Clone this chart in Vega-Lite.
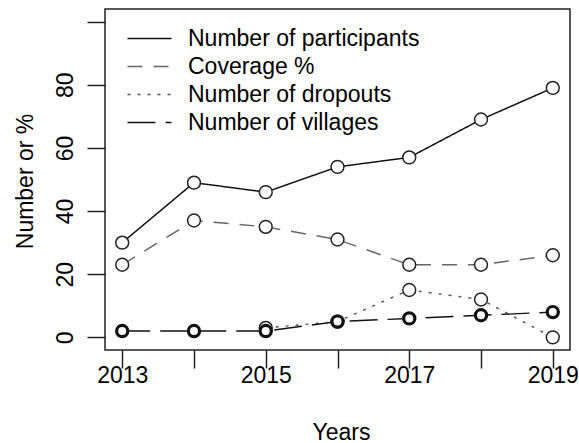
{
  "$schema": "https://vega.github.io/schema/vega-lite/v6.json",
  "width": 465,
  "height": 341,
  "autosize": "none",
  "padding": {"left": 105, "top": 9, "right": 9, "bottom": 93},
  "background": "white",
  "config": {
    "font": "Liberation Sans",
    "view": {"stroke": "#222", "strokeWidth": 1.5},
    "axis": {"grid": false, "domain": false, "tickColor": "#222", "tickWidth": 1.5, "tickSize": 18,
             "labelFontSize": 23, "labelColor": "black", "titleFontSize": 23, "titleColor": "black",
             "titleFontWeight": "normal", "labelFont": "Liberation Sans", "titleFont": "Liberation Sans"},
    "legend": {"orient": "none", "legendX": 33, "legendY": 18, "title": null, "symbolType": "M-2.5,0H2.5",
               "symbolSize": 310, "labelFontSize": 23, "labelColor": "black", "labelFont": "Liberation Sans",
               "labelOffset": 27, "rowPadding": 4, "padding": 0, "labelLimit": 400}
  },
  "data": {"values": [
    {"year": 2013, "series": "Number of participants", "value": 30},
    {"year": 2014, "series": "Number of participants", "value": 49},
    {"year": 2015, "series": "Number of participants", "value": 46},
    {"year": 2016, "series": "Number of participants", "value": 54},
    {"year": 2017, "series": "Number of participants", "value": 57},
    {"year": 2018, "series": "Number of participants", "value": 69},
    {"year": 2019, "series": "Number of participants", "value": 79},
    {"year": 2013, "series": "Coverage %", "value": 23},
    {"year": 2014, "series": "Coverage %", "value": 37},
    {"year": 2015, "series": "Coverage %", "value": 35},
    {"year": 2016, "series": "Coverage %", "value": 31},
    {"year": 2017, "series": "Coverage %", "value": 23},
    {"year": 2018, "series": "Coverage %", "value": 23},
    {"year": 2019, "series": "Coverage %", "value": 26},
    {"year": 2015, "series": "Number of dropouts", "value": 3},
    {"year": 2016, "series": "Number of dropouts", "value": 5},
    {"year": 2017, "series": "Number of dropouts", "value": 15},
    {"year": 2018, "series": "Number of dropouts", "value": 12},
    {"year": 2019, "series": "Number of dropouts", "value": 0},
    {"year": 2013, "series": "Number of villages", "value": 2},
    {"year": 2014, "series": "Number of villages", "value": 2},
    {"year": 2015, "series": "Number of villages", "value": 2},
    {"year": 2016, "series": "Number of villages", "value": 5},
    {"year": 2017, "series": "Number of villages", "value": 6},
    {"year": 2018, "series": "Number of villages", "value": 7},
    {"year": 2019, "series": "Number of villages", "value": 8}
  ]},
  "encoding": {
    "x": {"field": "year", "type": "quantitative",
          "scale": {"domain": [2012.76, 2019.24], "nice": false, "zero": false},
          "axis": {"values": [2013, 2014, 2015, 2016, 2017, 2018, 2019], "format": "d",
                   "labelExpr": "datum.value % 2 == 1 ? datum.label : ''",
                   "labelBaseline": "alphabetic", "labelPadding": 14, "labelFlush": false, "labelOverlap": false,
                   "title": "Years", "titleX": 236, "titleY": 89, "titleBaseline": "alphabetic", "titleAlign": "center"}},
    "y": {"field": "value", "type": "quantitative",
          "scale": {"domain": [-4, 104], "nice": false, "zero": false},
          "axis": {"values": [0, 20, 40, 60, 80, 100],
                   "labelExpr": "datum.value == 100 ? '' : datum.label",
                   "labelAngle": -90, "labelAlign": "center", "labelBaseline": "alphabetic", "labelPadding": 15,
                   "labelFlush": false, "labelOverlap": false,
                   "title": "Number or %", "titleAngle": -90, "titleX": -73, "titleY": 172,
                   "titleBaseline": "alphabetic", "titleAlign": "center"}}
  },
  "layer": [
    {
      "mark": {"type": "line", "strokeCap": "butt"},
      "encoding": {
        "color": {"field": "series", "type": "nominal",
                  "scale": {"domain": ["Number of participants", "Coverage %", "Number of dropouts", "Number of villages"],
                            "range": ["#111", "#666", "#555", "#111"]}},
        "strokeDash": {"field": "series", "type": "nominal",
                       "scale": {"domain": ["Number of participants", "Coverage %", "Number of dropouts", "Number of villages"],
                                 "range": [[1, 0], [15, 11], [3, 7], [28, 10]]}},
        "strokeWidth": {"field": "series", "type": "nominal",
                        "scale": {"domain": ["Number of participants", "Coverage %", "Number of dropouts", "Number of villages"],
                                  "range": [1.5, 1.4, 1.4, 3.2]}}
      }
    },
    {
      "transform": [{"filter": "datum.series != 'Number of villages'"}],
      "mark": {"type": "point", "shape": "circle", "size": 165, "filled": false, "fill": "white", "fillOpacity": 1, "stroke": "#222", "strokeWidth": 1.5, "opacity": 1}
    },
    {
      "transform": [{"filter": "datum.series == 'Number of villages'"}],
      "mark": {"type": "point", "shape": "circle", "size": 125, "filled": false, "fill": "white", "fillOpacity": 1, "stroke": "#111", "strokeWidth": 3.2, "opacity": 1}
    }
  ]
}
